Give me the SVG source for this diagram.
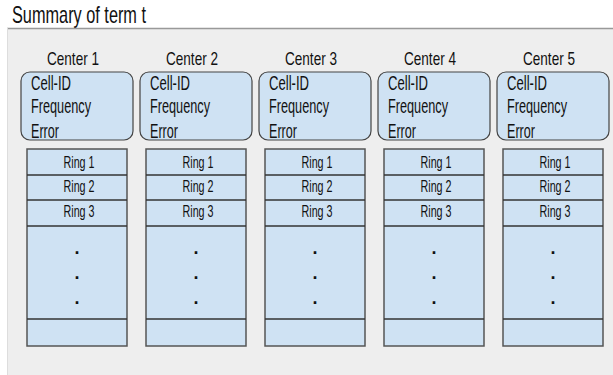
<svg xmlns="http://www.w3.org/2000/svg" width="613" height="375" viewBox="0 0 613 375">
<defs>
<style>
text{font-family:"Liberation Sans",Arial,sans-serif;fill:#111;}
.title{font-size:24px;}
.clabel{font-size:19px;text-anchor:middle;}
.info{font-size:20px;}
.ring{font-size:17px;text-anchor:middle;}
.dot{font-size:18px;text-anchor:middle;font-weight:bold;}
.cbox{fill:#cfe2f3;stroke:#444;stroke-width:1.2;}
.stack{fill:#cfe2f3;stroke:#555;stroke-width:1.5;}
.sep{stroke:#333;stroke-width:1.5;}
</style>
<clipPath id="cb"><rect x="0" y="72" width="613" height="68"/></clipPath>
</defs>
<rect x="0" y="0" width="613" height="375" fill="#fff"/>
<text class="title" x="12" y="23" textLength="134" lengthAdjust="spacingAndGlyphs">Summary of term t</text>
<rect x="7" y="28" width="606" height="347" fill="#eeeeee"/>
<line x1="7" y1="28.5" x2="613" y2="28.5" stroke="#999" stroke-width="1.5"/>
<line x1="7.5" y1="28" x2="7.5" y2="375" stroke="#ddd" stroke-width="1"/>

<g id="center1">
<text class="clabel" x="73" y="65" textLength="52" lengthAdjust="spacingAndGlyphs">Center 1</text>
<rect class="cbox" x="21" y="72" width="112" height="68" rx="9"/>
<g clip-path="url(#cb)">
<text class="info" x="31" y="90" textLength="40" lengthAdjust="spacingAndGlyphs">Cell-ID</text>
<text class="info" x="31" y="113" textLength="60" lengthAdjust="spacingAndGlyphs">Frequency</text>
<text class="info" x="31" y="138" textLength="28" lengthAdjust="spacingAndGlyphs">Error</text>
</g>
<rect class="stack" x="27" y="149" width="100" height="197"/>
<line class="sep" x1="27" y1="175" x2="127" y2="175"/>
<line class="sep" x1="27" y1="200" x2="127" y2="200"/>
<line class="sep" x1="27" y1="226" x2="127" y2="226"/>
<line class="sep" x1="27" y1="319" x2="127" y2="319"/>
<text class="ring" x="79" y="168" textLength="31" lengthAdjust="spacingAndGlyphs">Ring 1</text>
<text class="ring" x="79" y="192" textLength="31" lengthAdjust="spacingAndGlyphs">Ring 2</text>
<text class="ring" x="79" y="217" textLength="31" lengthAdjust="spacingAndGlyphs">Ring 3</text>
<text class="dot" x="77" y="254">.</text>
<text class="dot" x="77" y="279">.</text>
<text class="dot" x="77" y="304">.</text>
</g>

<g id="center2" transform="translate(119,0)">
<text class="clabel" x="73" y="65" textLength="52" lengthAdjust="spacingAndGlyphs">Center 2</text>
<rect class="cbox" x="21" y="72" width="112" height="68" rx="9"/>
<g clip-path="url(#cb)">
<text class="info" x="31" y="90" textLength="40" lengthAdjust="spacingAndGlyphs">Cell-ID</text>
<text class="info" x="31" y="113" textLength="60" lengthAdjust="spacingAndGlyphs">Frequency</text>
<text class="info" x="31" y="138" textLength="28" lengthAdjust="spacingAndGlyphs">Error</text>
</g>
<rect class="stack" x="27" y="149" width="100" height="197"/>
<line class="sep" x1="27" y1="175" x2="127" y2="175"/>
<line class="sep" x1="27" y1="200" x2="127" y2="200"/>
<line class="sep" x1="27" y1="226" x2="127" y2="226"/>
<line class="sep" x1="27" y1="319" x2="127" y2="319"/>
<text class="ring" x="79" y="168" textLength="31" lengthAdjust="spacingAndGlyphs">Ring 1</text>
<text class="ring" x="79" y="192" textLength="31" lengthAdjust="spacingAndGlyphs">Ring 2</text>
<text class="ring" x="79" y="217" textLength="31" lengthAdjust="spacingAndGlyphs">Ring 3</text>
<text class="dot" x="77" y="254">.</text>
<text class="dot" x="77" y="279">.</text>
<text class="dot" x="77" y="304">.</text>
</g>

<g id="center3" transform="translate(238,0)">
<text class="clabel" x="73" y="65" textLength="52" lengthAdjust="spacingAndGlyphs">Center 3</text>
<rect class="cbox" x="21" y="72" width="112" height="68" rx="9"/>
<g clip-path="url(#cb)">
<text class="info" x="31" y="90" textLength="40" lengthAdjust="spacingAndGlyphs">Cell-ID</text>
<text class="info" x="31" y="113" textLength="60" lengthAdjust="spacingAndGlyphs">Frequency</text>
<text class="info" x="31" y="138" textLength="28" lengthAdjust="spacingAndGlyphs">Error</text>
</g>
<rect class="stack" x="27" y="149" width="100" height="197"/>
<line class="sep" x1="27" y1="175" x2="127" y2="175"/>
<line class="sep" x1="27" y1="200" x2="127" y2="200"/>
<line class="sep" x1="27" y1="226" x2="127" y2="226"/>
<line class="sep" x1="27" y1="319" x2="127" y2="319"/>
<text class="ring" x="79" y="168" textLength="31" lengthAdjust="spacingAndGlyphs">Ring 1</text>
<text class="ring" x="79" y="192" textLength="31" lengthAdjust="spacingAndGlyphs">Ring 2</text>
<text class="ring" x="79" y="217" textLength="31" lengthAdjust="spacingAndGlyphs">Ring 3</text>
<text class="dot" x="77" y="254">.</text>
<text class="dot" x="77" y="279">.</text>
<text class="dot" x="77" y="304">.</text>
</g>

<g id="center4" transform="translate(357,0)">
<text class="clabel" x="73" y="65" textLength="52" lengthAdjust="spacingAndGlyphs">Center 4</text>
<rect class="cbox" x="21" y="72" width="112" height="68" rx="9"/>
<g clip-path="url(#cb)">
<text class="info" x="31" y="90" textLength="40" lengthAdjust="spacingAndGlyphs">Cell-ID</text>
<text class="info" x="31" y="113" textLength="60" lengthAdjust="spacingAndGlyphs">Frequency</text>
<text class="info" x="31" y="138" textLength="28" lengthAdjust="spacingAndGlyphs">Error</text>
</g>
<rect class="stack" x="27" y="149" width="100" height="197"/>
<line class="sep" x1="27" y1="175" x2="127" y2="175"/>
<line class="sep" x1="27" y1="200" x2="127" y2="200"/>
<line class="sep" x1="27" y1="226" x2="127" y2="226"/>
<line class="sep" x1="27" y1="319" x2="127" y2="319"/>
<text class="ring" x="79" y="168" textLength="31" lengthAdjust="spacingAndGlyphs">Ring 1</text>
<text class="ring" x="79" y="192" textLength="31" lengthAdjust="spacingAndGlyphs">Ring 2</text>
<text class="ring" x="79" y="217" textLength="31" lengthAdjust="spacingAndGlyphs">Ring 3</text>
<text class="dot" x="77" y="254">.</text>
<text class="dot" x="77" y="279">.</text>
<text class="dot" x="77" y="304">.</text>
</g>

<g id="center5" transform="translate(476,0)">
<text class="clabel" x="73" y="65" textLength="52" lengthAdjust="spacingAndGlyphs">Center 5</text>
<rect class="cbox" x="21" y="72" width="112" height="68" rx="9"/>
<g clip-path="url(#cb)">
<text class="info" x="31" y="90" textLength="40" lengthAdjust="spacingAndGlyphs">Cell-ID</text>
<text class="info" x="31" y="113" textLength="60" lengthAdjust="spacingAndGlyphs">Frequency</text>
<text class="info" x="31" y="138" textLength="28" lengthAdjust="spacingAndGlyphs">Error</text>
</g>
<rect class="stack" x="27" y="149" width="100" height="197"/>
<line class="sep" x1="27" y1="175" x2="127" y2="175"/>
<line class="sep" x1="27" y1="200" x2="127" y2="200"/>
<line class="sep" x1="27" y1="226" x2="127" y2="226"/>
<line class="sep" x1="27" y1="319" x2="127" y2="319"/>
<text class="ring" x="79" y="168" textLength="31" lengthAdjust="spacingAndGlyphs">Ring 1</text>
<text class="ring" x="79" y="192" textLength="31" lengthAdjust="spacingAndGlyphs">Ring 2</text>
<text class="ring" x="79" y="217" textLength="31" lengthAdjust="spacingAndGlyphs">Ring 3</text>
<text class="dot" x="77" y="254">.</text>
<text class="dot" x="77" y="279">.</text>
<text class="dot" x="77" y="304">.</text>
</g>
<g id="connectors"/>
</svg>
